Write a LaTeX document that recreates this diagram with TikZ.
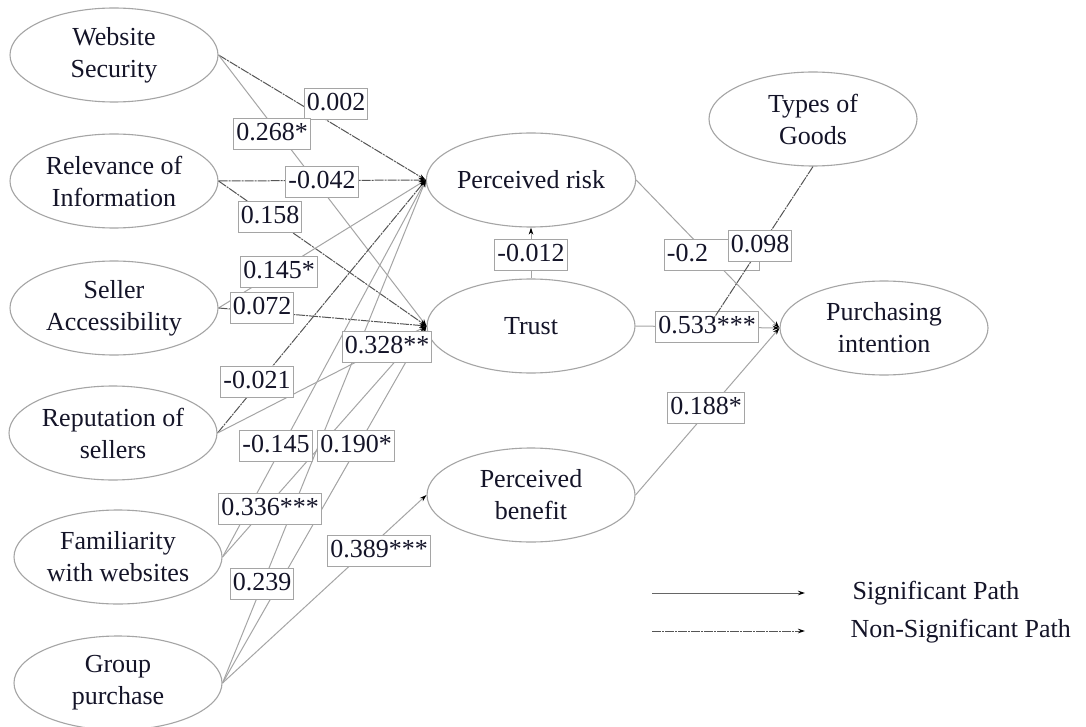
\documentclass[tikz,border=0pt]{standalone}
\usepackage{fontspec}
\setmainfont{Liberation Serif}
\usetikzlibrary{shapes.geometric,arrows.meta}
\definecolor{sigc}{RGB}{165,165,165}
\definecolor{nsc}{RGB}{85,85,85}
\definecolor{bord}{RGB}{165,165,165}
\definecolor{ink}{RGB}{20,20,40}
\begin{document}
\begin{tikzpicture}[x=1pt,y=-1pt,
  con/.style={ellipse,draw=bord,line width=1.1pt,minimum width=208pt,minimum height=94pt,inner sep=0pt,align=center,text=ink,font=\fontsize{26}{32}\selectfont},
  val/.style={draw=bord,line width=0.9pt,fill=white,inner xsep=2.5pt,inner ysep=3pt,text height=19pt,text depth=6pt,text=ink,font=\fontsize{26}{30}\selectfont},
  tip/.style={-{Stealth[length=7pt,width=4.5pt,color=black]}},
  sig/.style={draw=sigc,line width=1pt,tip},
  ns/.style={draw=nsc,line width=1pt,dash pattern=on 9pt off 1pt on 2pt off 1pt,tip},
  nsl/.style={draw=nsc,line width=1pt,dash pattern=on 9pt off 1pt on 2pt off 1pt},
  leg/.style={anchor=west,text=ink,font=\fontsize{26}{30}\selectfont},
]
\fill[white] (0,0) rectangle (1086,727);
\useasboundingbox (0,0) rectangle (1086,727);

% constructs
\node[con] (ws) at (114,55)  {Website\\Security};
\node[con] (ri) at (114,181) {Relevance of\\Information};
\node[con] (sa) at (114,308) {Seller\\Accessibility};
\node[con] (rs) at (113,433) {Reputation of\\sellers};
\node[con] (fw) at (118,557) {Familiarity\\with websites};
\node[con] (gp) at (118,683) {Group\\purchase};
\node[con] (pr) at (531,180) {Perceived risk};
\node[con] (tr) at (531,326) {Trust};
\node[con] (pb) at (531,495) {Perceived\\benefit};
\node[con] (tg) at (813,119) {Types of\\Goods};
\node[con] (pi) at (884,328) {Purchasing\\intention};

% paths
\draw[ns]  (ws.east) -- (pr.west);
\draw[sig] (ws.east) -- (tr.west);
\draw[ns]  (ri.east) -- (pr.west);
\draw[ns]  (ri.east) -- (tr.west);
\draw[sig] (sa.east) -- (pr.west);
\draw[ns]  (sa.east) -- (tr.west);
\draw[ns]  (rs.east) -- (pr.west);
\draw[sig] (rs.east) -- (tr.west);
\draw[sig] (fw.east) -- (pr.west);
\draw[sig] (fw.east) -- (tr.west);
\draw[sig] (gp.east) -- (pr.west);
\draw[sig] (gp.east) -- (tr.west);
\draw[sig] (gp.east) -- (pb.west);
\draw[sig] (tr.north) -- (pr.south);
\draw[sig] (pr.east) -- (pi.west);
\draw[sig] (tr.east) -- (pi.west);
\draw[sig] (pb.east) -- (pi.west);

% legend
\coordinate (s1) at (652,593);
\coordinate (s2) at (805,593);
\coordinate (n1) at (652,631);
\coordinate (n2) at (805,631);
\draw[sig,draw=gray!80!black] (s1) -- (s2);
\draw[ns] (n1) -- (n2);
\node[leg] (lsig) at (849,593) {Significant Path};
\node[leg] (lns) at (847,631) {Non-Significant Path};

% coefficients
\node[val] (v01) at (336,104) {0.002};
\node[val] (v02) at (272,134) {0.268*};
\node[val] (v03) at (322,182) {-0.042};
\node[val] (v04) at (270,217) {0.158};
\node[val] (v05) at (279,272) {0.145*};
\node[val] (v06) at (262,308) {0.072};
\node[val] (v07) at (387,347) {0.328**};
\node[val] (v08) at (257,382) {-0.021};
\node[val] (v09) at (276,446) {-0.145};
\node[val] (v10) at (356,446) {0.190*};
\node[val] (v11) at (270,509) {0.336***};
\node[val] (v12) at (379,551) {0.389***};
\node[val] (v13) at (262,584) {0.239};
\node[val] (v14) at (531,255) {-0.012};
\node[val,anchor=west,text width=90pt,align=left] (v15) at (664,255) {-0.2};
\node[val] (v16) at (707,327) {0.533***};
\node[val] (v17) at (706,408) {0.188*};

% moderator
\coordinate (m) at (714,318);
\draw[nsl] (tg.south) -- (m);
\node[val] (v18) at (760,246) {0.098};
\end{tikzpicture}
\end{document}
